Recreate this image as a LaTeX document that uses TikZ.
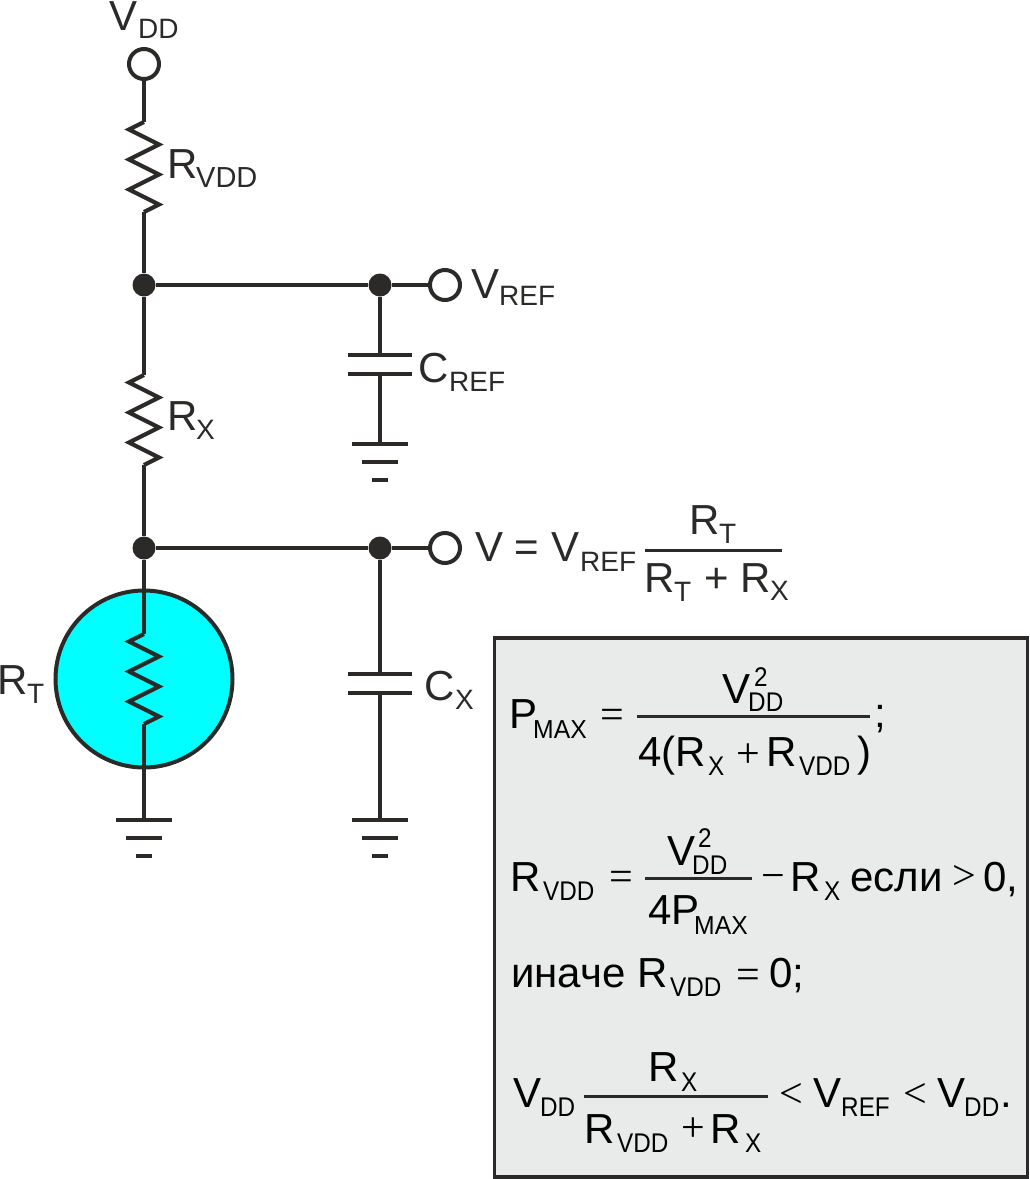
\documentclass[tikz,border=0pt]{standalone}
\usepackage{fontspec}
\setmainfont{Liberation Sans}
\newfontfamily\opf{Liberation Serif}
\newfontfamily\eqsubfam[FakeStretch=0.9]{Liberation Sans}
\newfontfamily\eqmaxfam[FakeStretch=0.95]{Liberation Sans}
\newcommand{\bigf}{\fontsize{42}{42}\selectfont}
\newcommand{\subf}{\fontsize{28}{28}\selectfont}
\newcommand{\eqsubf}{\eqsubfam\fontsize{27}{27}\selectfont}
\newcommand{\maxf}{\eqmaxfam\fontsize{26}{26}\selectfont}
\definecolor{ink}{HTML}{2B2A29}
\definecolor{boxc}{HTML}{E9EBEA}
\definecolor{therm}{HTML}{00FFFF}
\tikzset{
  wire/.style={draw=ink,line width=4.2pt,line join=miter},
  hwire/.style={draw=ink,line width=3.6pt},
  opencirc/.style={circle,draw=ink,fill=white,line width=4pt,minimum size=30pt,inner sep=0pt},
  junction/.style={circle,fill=ink,minimum size=23pt,inner sep=0pt},
  main/.style={anchor=base west,inner sep=0pt,text=ink,font=\bigf},
  sub/.style={anchor=base west,inner sep=0pt,text=ink,font=\subf},
  eq/.style={anchor=base west,inner sep=0pt,text=black,font=\bigf},
  eqsub/.style={anchor=base west,inner sep=0pt,text=black,font=\eqsubf},
  eqmax/.style={anchor=base west,inner sep=0pt,text=black,font=\maxf},
  op/.style={anchor=base,inner sep=0pt,text=black,font=\opf\fontsize{42}{42}\selectfont},
  fracline/.style={draw=ink,line width=3pt},
  plate/.style={draw=ink,line width=4.5pt},
  res/.pic={\draw[wire] (0,0) -- (-15,7.5) -- (15,22.5) -- (-15,37.5) -- (15,52.5) -- (-15,67.5) -- (15,82.5) -- (0,90);},
  gnd/.pic={\draw[plate] (-28,0) -- (28,0); \draw[plate] (-18,18) -- (18,18); \draw[plate] (-8,36) -- (8,36);},
  capac/.pic={\draw[plate] (-32,0) -- (32,0); \draw[plate] (-32,19) -- (32,19);},
}
\begin{document}
\begin{tikzpicture}[x=1pt,y=-1pt]
\useasboundingbox (0,0) rectangle (1030,1179);
% equation box
\node[draw=ink,fill=boxc,line width=3.5pt,anchor=north west,outer sep=0pt,minimum width=533pt,minimum height=539pt,inner sep=0pt] (box) at (494.5,638) {};
% thermistor body
\node[circle,draw=ink,fill=therm,line width=4pt,minimum size=177pt,inner sep=0pt] (therm) at (144,679) {};
% nodes
\node[opencirc] (vdd) at (144,64) {};
\node[junction] (j1) at (144,285) {};
\node[junction] (j2) at (380,285) {};
\node[opencirc] (vref) at (445,285) {};
\node[junction] (j3) at (144,548) {};
\node[junction] (j4) at (380,548) {};
\node[opencirc] (vout) at (445,548) {};
\coordinate (r1a) at (144,122); \coordinate (r1b) at (144,212);
\coordinate (r2a) at (144,375); \coordinate (r2b) at (144,465);
\coordinate (r3a) at (144,634); \coordinate (r3b) at (144,724);
\coordinate (g1) at (144,820); \coordinate (g2) at (380,444); \coordinate (g3) at (380,820);
\coordinate (c1a) at (380,355); \coordinate (c1b) at (380,374);
\coordinate (c2a) at (380,674); \coordinate (c2b) at (380,693);
% wires
\draw[wire] (vdd) -- (r1a);
\draw[wire] (r1b) -- (j1);
\draw[wire] (j1) -- (r2a);
\draw[wire] (r2b) -- (j3);
\draw[wire] (j3) -- (r3a);
\draw[wire] (r3b) -- (g1);
\draw[hwire] (j1) -- (j2);
\draw[hwire] (j2) -- (vref);
\draw[hwire] (j3) -- (j4);
\draw[hwire] (j4) -- (vout);
\draw[hwire] (j2) -- (c1a);
\draw[hwire] (c1b) -- (g2);
\draw[hwire] (j4) -- (c2a);
\draw[hwire] (c2b) -- (g3);
\pic at (r1a) {res};
\pic at (r2a) {res};
\pic at (r3a) {res};
\pic at (g1) {gnd};
\pic at (g2) {gnd};
\pic at (g3) {gnd};
\pic at (c1a) {capac};
\pic at (c2a) {capac};
% circuit labels
\node[main] (tV) at (109,30) {V}; \node[sub] (tVs) at (138,38) {DD};
\node[main] (tR1) at (167,178) {R}; \node[sub,font=\fontsize{29}{29}\selectfont] (tR1s) at (196,187) {VDD};
\node[main] (tVr) at (471,298) {V}; \node[sub] (tVrs) at (499,305) {REF};
\node[main] (tC1) at (418,382) {C}; \node[sub] (tC1s) at (449,391) {REF};
\node[main] (tR2) at (167,430) {R}; \node[sub] (tR2s) at (196,439) {X};
\node[main] (tRT) at (-3,694) {R}; \node[sub] (tRTs) at (27,703) {T};
\node[main] (tC2) at (424,700) {C}; \node[sub] (tC2s) at (455,709) {X};
\node[main] (tVo) at (475,561) {V = V}; \node[sub] (tVos) at (580,571) {REF};
\node[main] (tN) at (689,534) {R}; \node[sub] (tNs) at (719,543) {T};
\node[main] (tD) at (644,592) {R}; \node[sub] (tDs) at (674,601) {T};
\node[main] (tDp) at (704,592) {+}; \node[main] (tD2) at (740,592) {R}; \node[sub] (tD2s) at (770,600) {X};
\path (645,550.5) coordinate (fa) (782,550.5) coordinate (fb);
\draw[fracline] (fa) -- (fb);
% equation 1
\node[eq] (p) at (509,728) {P}; \node[eqmax] (ps) at (533,738) {MAX};
\node[op] (e1) at (612,728) {=};
\node[eq] (v1) at (722,703) {V}; \node[eqsub] (v1a) at (754,686) {2}; \node[eqsub] (v1b) at (748,711) {DD};
\path (637,716) coordinate (f1a) (870,716) coordinate (f1b);
\draw[fracline] (f1a) -- (f1b);
\node[eq] (d1) at (638,766) {4(R}; \node[eqsub] (d1x) at (708,775) {X};
\node[op] (d1p) at (748,767) {+};
\node[eq] (d1r) at (766,766) {R}; \node[eqsub] (d1s) at (799,775) {VDD};
\node[eq] (d1c) at (857,766) {)}; \node[eq] (semi) at (874,727) {;};
% equation 2
\node[eq] (r) at (510,891) {R}; \node[eqsub] (rs) at (543,900) {VDD};
\node[op] (e2) at (621,890) {=};
\node[eq] (v2) at (667,865) {V}; \node[eqsub] (v2a) at (698,847) {2}; \node[eqsub] (v2b) at (692,874) {DD};
\path (645,878) coordinate (f2a) (752,878) coordinate (f2b);
\draw[fracline] (f2a) -- (f2b);
\node[eq] (d2) at (648,924) {4P}; \node[eqmax] (d2s) at (694,934) {MAX};
\node[op] (m2) at (773,889) {−};
\node[eq] (rx) at (790,891) {R}; \node[eqsub] (rxs) at (824,900) {X};
\node[eq] (esl) at (850,891) {если};
\node[op] (gt) at (964,889) {>};
\node[eq] (zero) at (983,891) {0,};
% equation 3
\node[eq] (ina) at (511,987) {иначе R}; \node[eqsub] (inas) at (670,996) {VDD};
\node[op] (e3) at (748.5,988) {=};
\node[eq] (z3) at (769,987) {0;};
% equation 4
\node[eq] (v4) at (513,1107) {V}; \node[eqsub] (v4s) at (540,1116) {DD};
\node[eq] (n4) at (648,1081) {R}; \node[eqsub] (n4s) at (681,1091) {X};
\path (584,1096) coordinate (f4a) (768,1096) coordinate (f4b);
\draw[fracline] (f4a) -- (f4b);
\node[eq] (d4) at (584,1143) {R}; \node[eqsub] (d4s) at (617,1152) {VDD};
\node[op] (d4p) at (693,1141) {+};
\node[eq] (d4r) at (710,1143) {R}; \node[eqsub] (d4x) at (745,1152) {X};
\node[op] (lt1) at (791,1107) {<};
\node[eq] (v5) at (813,1107) {V}; \node[eqsub] (v5s) at (841,1116) {REF};
\node[op] (lt2) at (915,1107) {<};
\node[eq] (v6) at (937,1107) {V}; \node[eqsub] (v6s) at (964,1116) {DD};
\node[eq] (dot) at (1000,1107) {.};
\end{tikzpicture}
\end{document}
